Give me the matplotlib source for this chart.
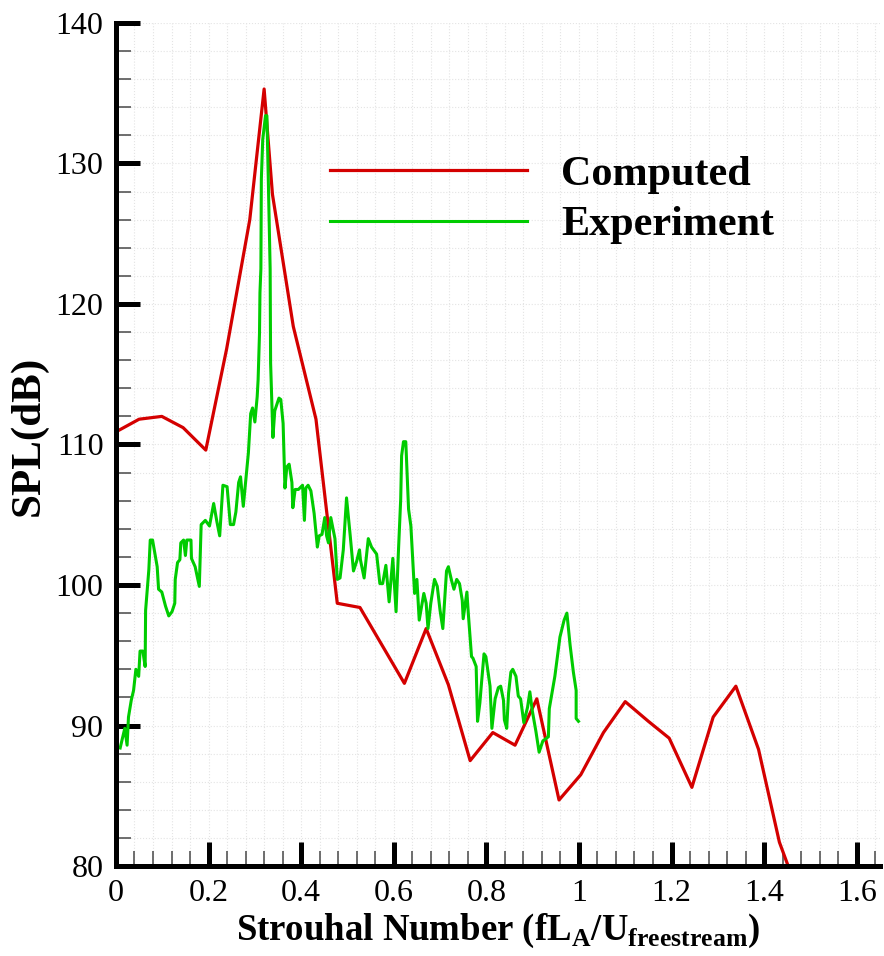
import matplotlib
matplotlib.use('Agg')
import matplotlib.pyplot as plt
from matplotlib.ticker import MultipleLocator

plt.rcParams['font.family'] = 'Liberation Serif'
plt.rcParams['mathtext.fontset'] = 'custom'
plt.rcParams['mathtext.rm'] = 'Liberation Serif:bold'
plt.rcParams['mathtext.bf'] = 'Liberation Serif:bold'

# computed spectrum
st_comp = [0.0, 0.05, 0.099, 0.145, 0.194, 0.239, 0.289, 0.320, 0.338, 0.383,
           0.432, 0.478, 0.527, 0.623, 0.670, 0.718, 0.765, 0.814, 0.862, 0.909,
           0.957, 1.004, 1.053, 1.100, 1.150, 1.195, 1.244, 1.290, 1.339, 1.388,
           1.433, 1.452]
spl_comp = [110.9, 111.8, 112.0, 111.2, 109.6, 116.8, 126.0, 135.3, 127.8, 118.4,
            111.8, 98.7, 98.4, 93.0, 96.9, 92.9, 87.5, 89.5, 88.6, 91.9,
            84.7, 86.5, 89.5, 91.7, 90.3, 89.1, 85.6, 90.6, 92.8, 88.3,
            81.7, 80.0]

# measured spectrum
st_exp = [0.009, 0.019, 0.024, 0.027, 0.033, 0.038, 0.043, 0.049, 0.052, 0.058,
          0.063, 0.064, 0.071, 0.074, 0.079, 0.089, 0.092, 0.099, 0.107, 0.114,
          0.121, 0.127, 0.128, 0.133, 0.138, 0.140, 0.146, 0.150, 0.153, 0.162,
          0.163, 0.171, 0.180, 0.184, 0.193, 0.202, 0.211, 0.218, 0.224, 0.231,
          0.240, 0.247, 0.254, 0.259, 0.265, 0.269, 0.275, 0.282, 0.286, 0.291,
          0.295, 0.300, 0.305, 0.307, 0.310, 0.311, 0.313, 0.314, 0.317, 0.323,
          0.326, 0.329, 0.333, 0.334, 0.339, 0.343, 0.352, 0.356, 0.361, 0.365,
          0.369, 0.374, 0.380, 0.382, 0.387, 0.394, 0.403, 0.407, 0.410, 0.415,
          0.421, 0.428, 0.435, 0.439, 0.445, 0.451, 0.455, 0.459, 0.464, 0.473,
          0.478, 0.484, 0.491, 0.498, 0.506, 0.513, 0.520, 0.526, 0.528, 0.536,
          0.545, 0.552, 0.563, 0.570, 0.576, 0.583, 0.590, 0.598, 0.605, 0.610,
          0.615, 0.617, 0.621, 0.626, 0.632, 0.637, 0.645, 0.650, 0.655, 0.665,
          0.670, 0.674, 0.680, 0.688, 0.694, 0.700, 0.706, 0.714, 0.718, 0.725,
          0.730, 0.736, 0.742, 0.748, 0.750, 0.758, 0.761, 0.768, 0.771, 0.778,
          0.781, 0.786, 0.790, 0.795, 0.799, 0.808, 0.812, 0.819, 0.826, 0.831,
          0.837, 0.839, 0.844, 0.848, 0.853, 0.857, 0.864, 0.869, 0.874, 0.881,
          0.889, 0.894, 0.899, 0.907, 0.914, 0.922, 0.934, 0.936, 0.948, 0.959,
          0.968, 0.974, 0.981, 0.988, 0.994, 0.994, 0.999]
spl_exp = [88.4, 89.8, 88.6, 90.6, 91.8, 92.5, 94.0, 93.5, 95.3, 95.3,
           94.2, 98.2, 101.1, 103.2, 103.2, 101.3, 99.7, 99.5, 98.5, 97.8,
           98.1, 98.7, 100.4, 101.6, 101.8, 103.0, 103.2, 102.1, 103.2, 103.2,
           101.9, 101.3, 99.9, 104.3, 104.6, 104.2, 105.8, 104.5, 103.5, 107.1,
           107.0, 104.3, 104.3, 105.2, 107.3, 107.7, 105.6, 108.0, 109.4, 112.2,
           112.6, 111.6, 113.4, 114.6, 117.9, 120.8, 122.5, 128.9, 131.7, 133.4,
           133.4, 128.9, 122.5, 115.8, 110.5, 112.4, 113.3, 113.2, 111.5, 106.9,
           108.4, 108.6, 107.3, 105.5, 106.8, 106.8, 107.1, 104.6, 106.9, 107.1,
           106.7, 105.1, 102.7, 103.5, 103.6, 104.8, 103.5, 103.0, 104.8, 103.3,
           100.4, 100.5, 102.5, 106.2, 103.5, 101.0, 101.7, 102.5, 101.8, 100.5,
           103.3, 102.7, 102.2, 100.1, 100.1, 101.4, 98.8, 101.9, 98.1, 102.3,
           106.1, 109.2, 110.2, 110.2, 105.4, 104.2, 99.4, 100.4, 97.5, 99.4,
           98.7, 96.9, 98.7, 100.4, 99.9, 98.2, 96.9, 101.0, 101.3, 100.3,
           99.7, 100.4, 100.1, 98.9, 97.6, 99.5, 98.0, 94.9, 94.8, 94.2,
           90.3, 91.6, 93.2, 95.1, 94.9, 92.8, 89.8, 91.9, 92.7, 92.8,
           91.8, 90.4, 89.8, 92.3, 93.8, 94.0, 93.5, 92.1, 91.9, 90.2,
           91.3, 92.4, 91.1, 89.6, 88.1, 88.9, 89.2, 91.2, 93.5, 96.3,
           97.5, 98.0, 95.7, 93.8, 92.5, 90.5, 90.3]

fig = plt.figure(figsize=(8.84, 9.56), dpi=100)
ax = fig.add_axes([0.1312, 0.0941, 0.8641, 0.8819])

ax.plot(st_comp, spl_comp, color='#d40000', lw=2.3, label='Computed')
ax.plot(st_exp, spl_exp, color='#00cc00', lw=2.2, label='Experiment')

ax.set_xlim(0, 1.65)
ax.set_ylim(80, 140)
ax.xaxis.set_major_locator(MultipleLocator(0.2))
ax.xaxis.set_minor_locator(MultipleLocator(0.04))
ax.yaxis.set_major_locator(MultipleLocator(10))
ax.yaxis.set_minor_locator(MultipleLocator(2))
ax.set_xticks([0, 0.2, 0.4, 0.6, 0.8, 1.0, 1.2, 1.4, 1.6])
ax.set_xticklabels(['0', '0.2', '0.4', '0.6', '0.8', '1', '1.2', '1.4', '1.6'])

ax.grid(which='both', color='#e4e4e4', linestyle=':', lw=0.8)
ax.set_axisbelow(True)

for s in ['top', 'right']:
    ax.spines[s].set_visible(False)
for s in ['left', 'bottom']:
    ax.spines[s].set_linewidth(3.6)

ax.tick_params(which='major', direction='in', length=17, width=3.6,
               labelsize=23, pad=9)
ax.tick_params(which='minor', direction='in', length=10.5, width=1.2,
               color='#555555')

ax.set_xlabel(r'Strouhal Number (fL$_{\mathrm{A}}$/U$_{\mathrm{freestream}}$)',
              fontsize=26.5, fontweight='bold', labelpad=3)
ax.set_ylabel('SPL(dB)', fontsize=31, fontweight='bold', labelpad=6)
ax.yaxis.label.set_y(0.51)

leg = ax.legend(loc='upper left', bbox_to_anchor=(0.28, 0.8425), frameon=False,
                prop={'size': 30.3, 'weight': 'bold'}, handlelength=4.68,
                handletextpad=0.81, labelspacing=0.28, borderpad=0,
                borderaxespad=0)

fig.savefig('out.png', dpi=100)
